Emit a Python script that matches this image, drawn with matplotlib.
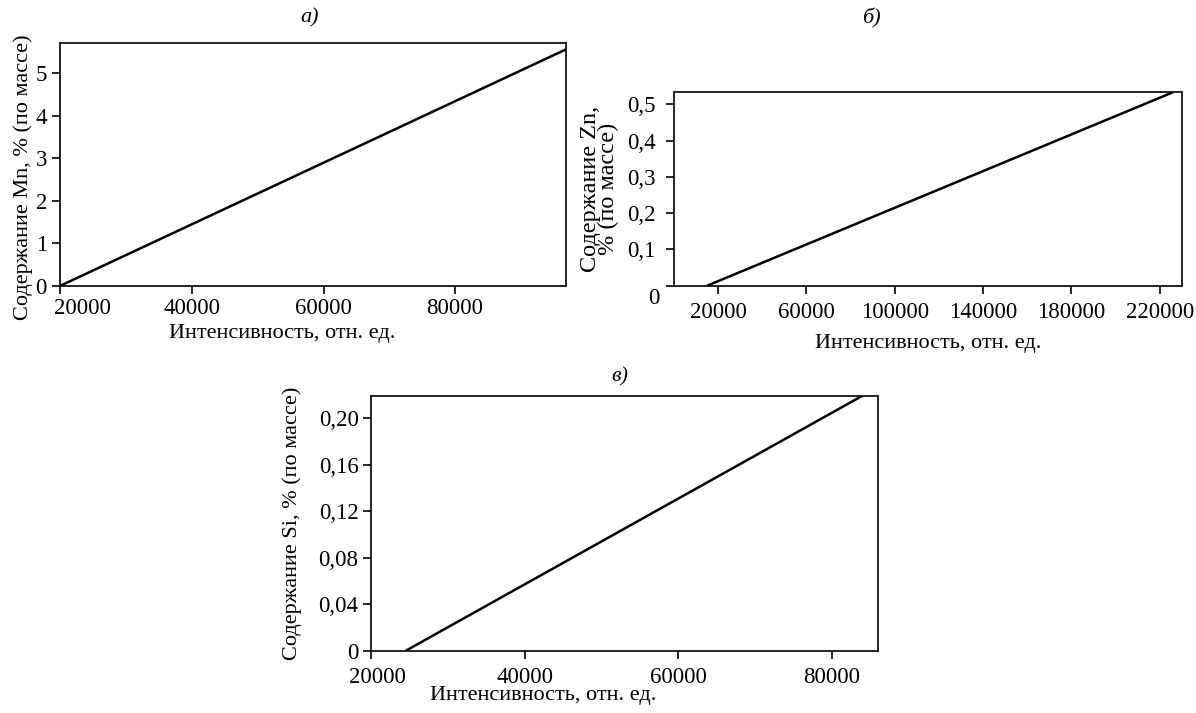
import matplotlib
matplotlib.use("Agg")
import matplotlib.pyplot as plt
import matplotlib.transforms as mtransforms

plt.rcParams['font.family'] = ['Liberation Serif', 'DejaVu Serif']
plt.rcParams['font.size'] = 16

# Panel a: Mn
mn_x = [19900, 96900]
mn_y = [0.0, 5.57]
mn_xticks = [20000, 40000, 60000, 80000]
mn_yticks = [0, 1, 2, 3, 4, 5]
mn_yticklabels = ["0", "1", "2", "3", "4", "5"]

# Panel b: Zn
zn_x = [15000, 226000]
zn_y = [0.0, 0.533]
zn_xticks = [20000, 60000, 100000, 140000, 180000, 220000]
zn_yticks = [0, 0.1, 0.2, 0.3, 0.4, 0.5]
zn_yticklabels = ["0", "0,1", "0,2", "0,3", "0,4", "0,5"]

# Panel c: Si
si_x = [24540, 84000]
si_y = [0.0, 0.2194]
si_xticks = [20000, 40000, 60000, 80000]
si_yticks = [0, 0.04, 0.08, 0.12, 0.16, 0.20]
si_yticklabels = ["0", "0,04", "0,08", "0,12", "0,16", "0,20"]

xlabel = "Интенсивность, отн. ед."

fig = plt.figure(figsize=(11.96, 7.13), dpi=100)

W, H = 1196, 713
def rect(l, r, t, b):
    return [l / W, 1 - b / H, (r - l) / W, (b - t) / H]

ax_a = fig.add_axes(rect(59.5, 566, 43.3, 286))
ax_b = fig.add_axes(rect(674, 1181.7, 92.3, 285.7))
ax_c = fig.add_axes(rect(371, 878.3, 395.7, 650.7))

def style(ax):
    for s in ax.spines.values():
        s.set_linewidth(1.2)
        s.set_color('black')
    ax.tick_params(direction='out', length=6, width=1.2, labelsize=16.5, pad=3)

for ax in (ax_a, ax_b, ax_c):
    style(ax)

# a
ax_a.plot(mn_x, mn_y, color='black', lw=1.8, solid_capstyle='butt')
ax_a.set_xlim(19850, 96860)
ax_a.set_ylim(0, 5.71)
ax_a.set_xticks(mn_xticks)
ax_a.set_xticklabels([str(v) for v in mn_xticks])
ax_a.set_yticks(mn_yticks)
ax_a.set_yticklabels(mn_yticklabels)
ax_a.set_ylabel("Содержание Mn, % (по массе)", fontsize=16)
ax_a.set_xlabel(xlabel, fontsize=16)
ax_a.yaxis.set_label_coords(-0.052, 0.45)
ax_a.xaxis.set_label_coords(0.44, -0.155)
lab = ax_a.get_xticklabels()[0]
lab.set_transform(lab.get_transform() + mtransforms.ScaledTranslation(22/100, 0, fig.dpi_scale_trans))

# b
ax_b.plot(zn_x, zn_y, color='black', lw=1.8, solid_capstyle='butt')
ax_b.set_xlim(0, 230000)
ax_b.set_ylim(0, 0.533)
ax_b.set_xticks(zn_xticks)
ax_b.set_xticklabels([str(v) for v in zn_xticks])
ax_b.set_yticks(zn_yticks)
ax_b.set_yticklabels(zn_yticklabels)
ax_b.tick_params(axis='y', pad=7)
ax_b.tick_params(axis='x', pad=6)
ax_b.set_ylabel("Содержание Zn,\n% (по массе)", fontsize=17.5, linespacing=0.8)
ax_b.set_xlabel(xlabel, fontsize=16)
ax_b.yaxis.set_label_coords(-0.108, 0.5)
ax_b.xaxis.set_label_coords(0.5, -0.25)
lab = ax_b.get_yticklabels()[0]
lab.set_transform(lab.get_transform() + mtransforms.ScaledTranslation(4/100, -10/100, fig.dpi_scale_trans))

# c
ax_c.plot(si_x, si_y, color='black', lw=1.8, solid_capstyle='butt')
ax_c.set_xlim(20000, 86060)
ax_c.set_ylim(0, 0.2194)
ax_c.set_xticks(si_xticks)
ax_c.set_xticklabels([str(v) for v in si_xticks])
ax_c.set_yticks(si_yticks)
ax_c.set_yticklabels(si_yticklabels)
ax_c.tick_params(axis='x', pad=6)
ax_c.set_ylabel("Содержание Si, % (по массе)", fontsize=16)
ax_c.set_xlabel(xlabel, fontsize=16)
ax_c.yaxis.set_label_coords(-0.136, 0.5)
ax_c.xaxis.set_label_coords(0.34, -0.14)
lab = ax_c.get_xticklabels()[0]
lab.set_transform(lab.get_transform() + mtransforms.ScaledTranslation(6/100, 0, fig.dpi_scale_trans))

fig.text(310 / W, 1 - 18 / H, "а)", ha='center', va='center', style='italic', fontsize=16)
fig.text(871 / W, 1 - 18 / H, "б)", ha='center', va='center', style='italic', fontsize=16)
fig.text(620 / W, 1 - 377 / H, "в)", ha='center', va='center', style='italic', fontsize=16)

fig.savefig("out.png", dpi=100)
